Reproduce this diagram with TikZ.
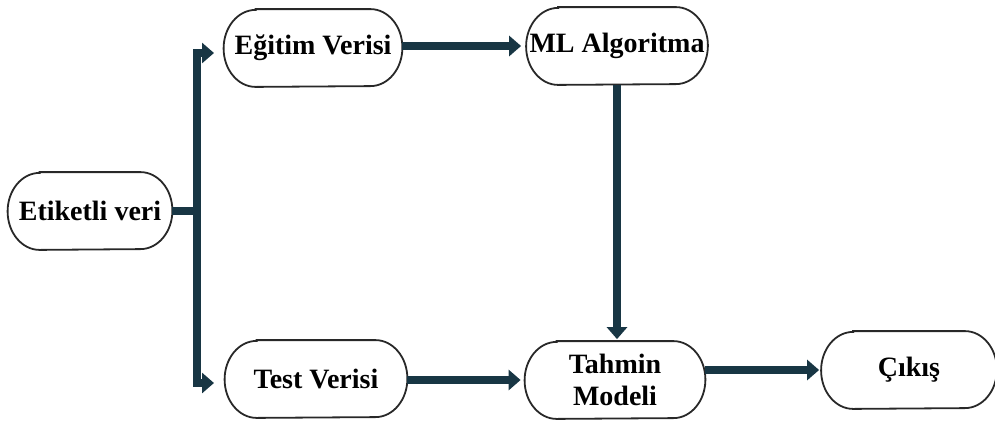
\documentclass[tikz,border=0pt]{standalone}
\usepackage{fontspec}
\setmainfont{Liberation Serif}
\usetikzlibrary{arrows.meta}
\definecolor{conncol}{RGB}{24,54,68}
\definecolor{bordercol}{RGB}{40,40,40}
\tikzset{
  pill/.style={rectangle, minimum height=38.5pt, inner sep=0pt,
    font=\fontsize{14}{15}\selectfont\bfseries, align=center},
  pillline/.style={draw=bordercol, line width=0.9pt},
  conn/.style={draw=conncol, line width=4pt, line join=miter},
  arr/.style={conn, -{Triangle[length=6pt,width=10pt]}},
}
\begin{document}
\begin{tikzpicture}[x=0.5pt,y=-0.5pt]
\useasboundingbox (0,0) rectangle (995,424);
\node[pill, minimum width=82pt] (et) at (90,211) {Etiketli veri};
\node[pill, minimum width=89pt] (eg) at (313,48) {Eğitim Verisi};
\node[pill, minimum width=90.5pt] (ml) at (617,46) {ML Algoritma};
\node[pill, minimum width=91pt] (te) at (316,379) {Test Verisi};
\node[pill, minimum width=90pt] (ta) at (615,380) {Tahmin\\[1pt]Modeli};
\node[pill, minimum width=87.5pt] (ci) at (909,370) {Çıkış};
\foreach \n in {et,eg,ml,te,ta,ci}{
  \draw[pillline] ([xshift=16pt]\n.north west) -- ([xshift=-16pt]\n.north east)
    arc[start angle=90, end angle=-90, x radius=16pt, y radius=19.25pt]
    -- ([xshift=16pt]\n.south west)
    arc[start angle=270, end angle=90, x radius=16pt, y radius=19.25pt] -- cycle;
}
\coordinate (bj) at (197,211);
\coordinate (egin) at (214,53);
\coordinate (tein) at (214,383);
\draw[conn] (et.east) -- (bj);
\draw[arr] (bj) |- (egin);
\draw[arr] (bj) |- (tein);
\draw[arr, shorten >=2.5pt] (eg.east |- ml.west) -- (ml.west);
\draw[arr, shorten >=1pt] (ml.south) -- (ml.south |- ta.north);
\draw[arr, shorten >=2pt] (te.east |- ta.west) -- (ta.west);
\draw[arr, shorten >=1pt] (ta.east |- ci.west) -- (ci.west);
\end{tikzpicture}
\end{document}
